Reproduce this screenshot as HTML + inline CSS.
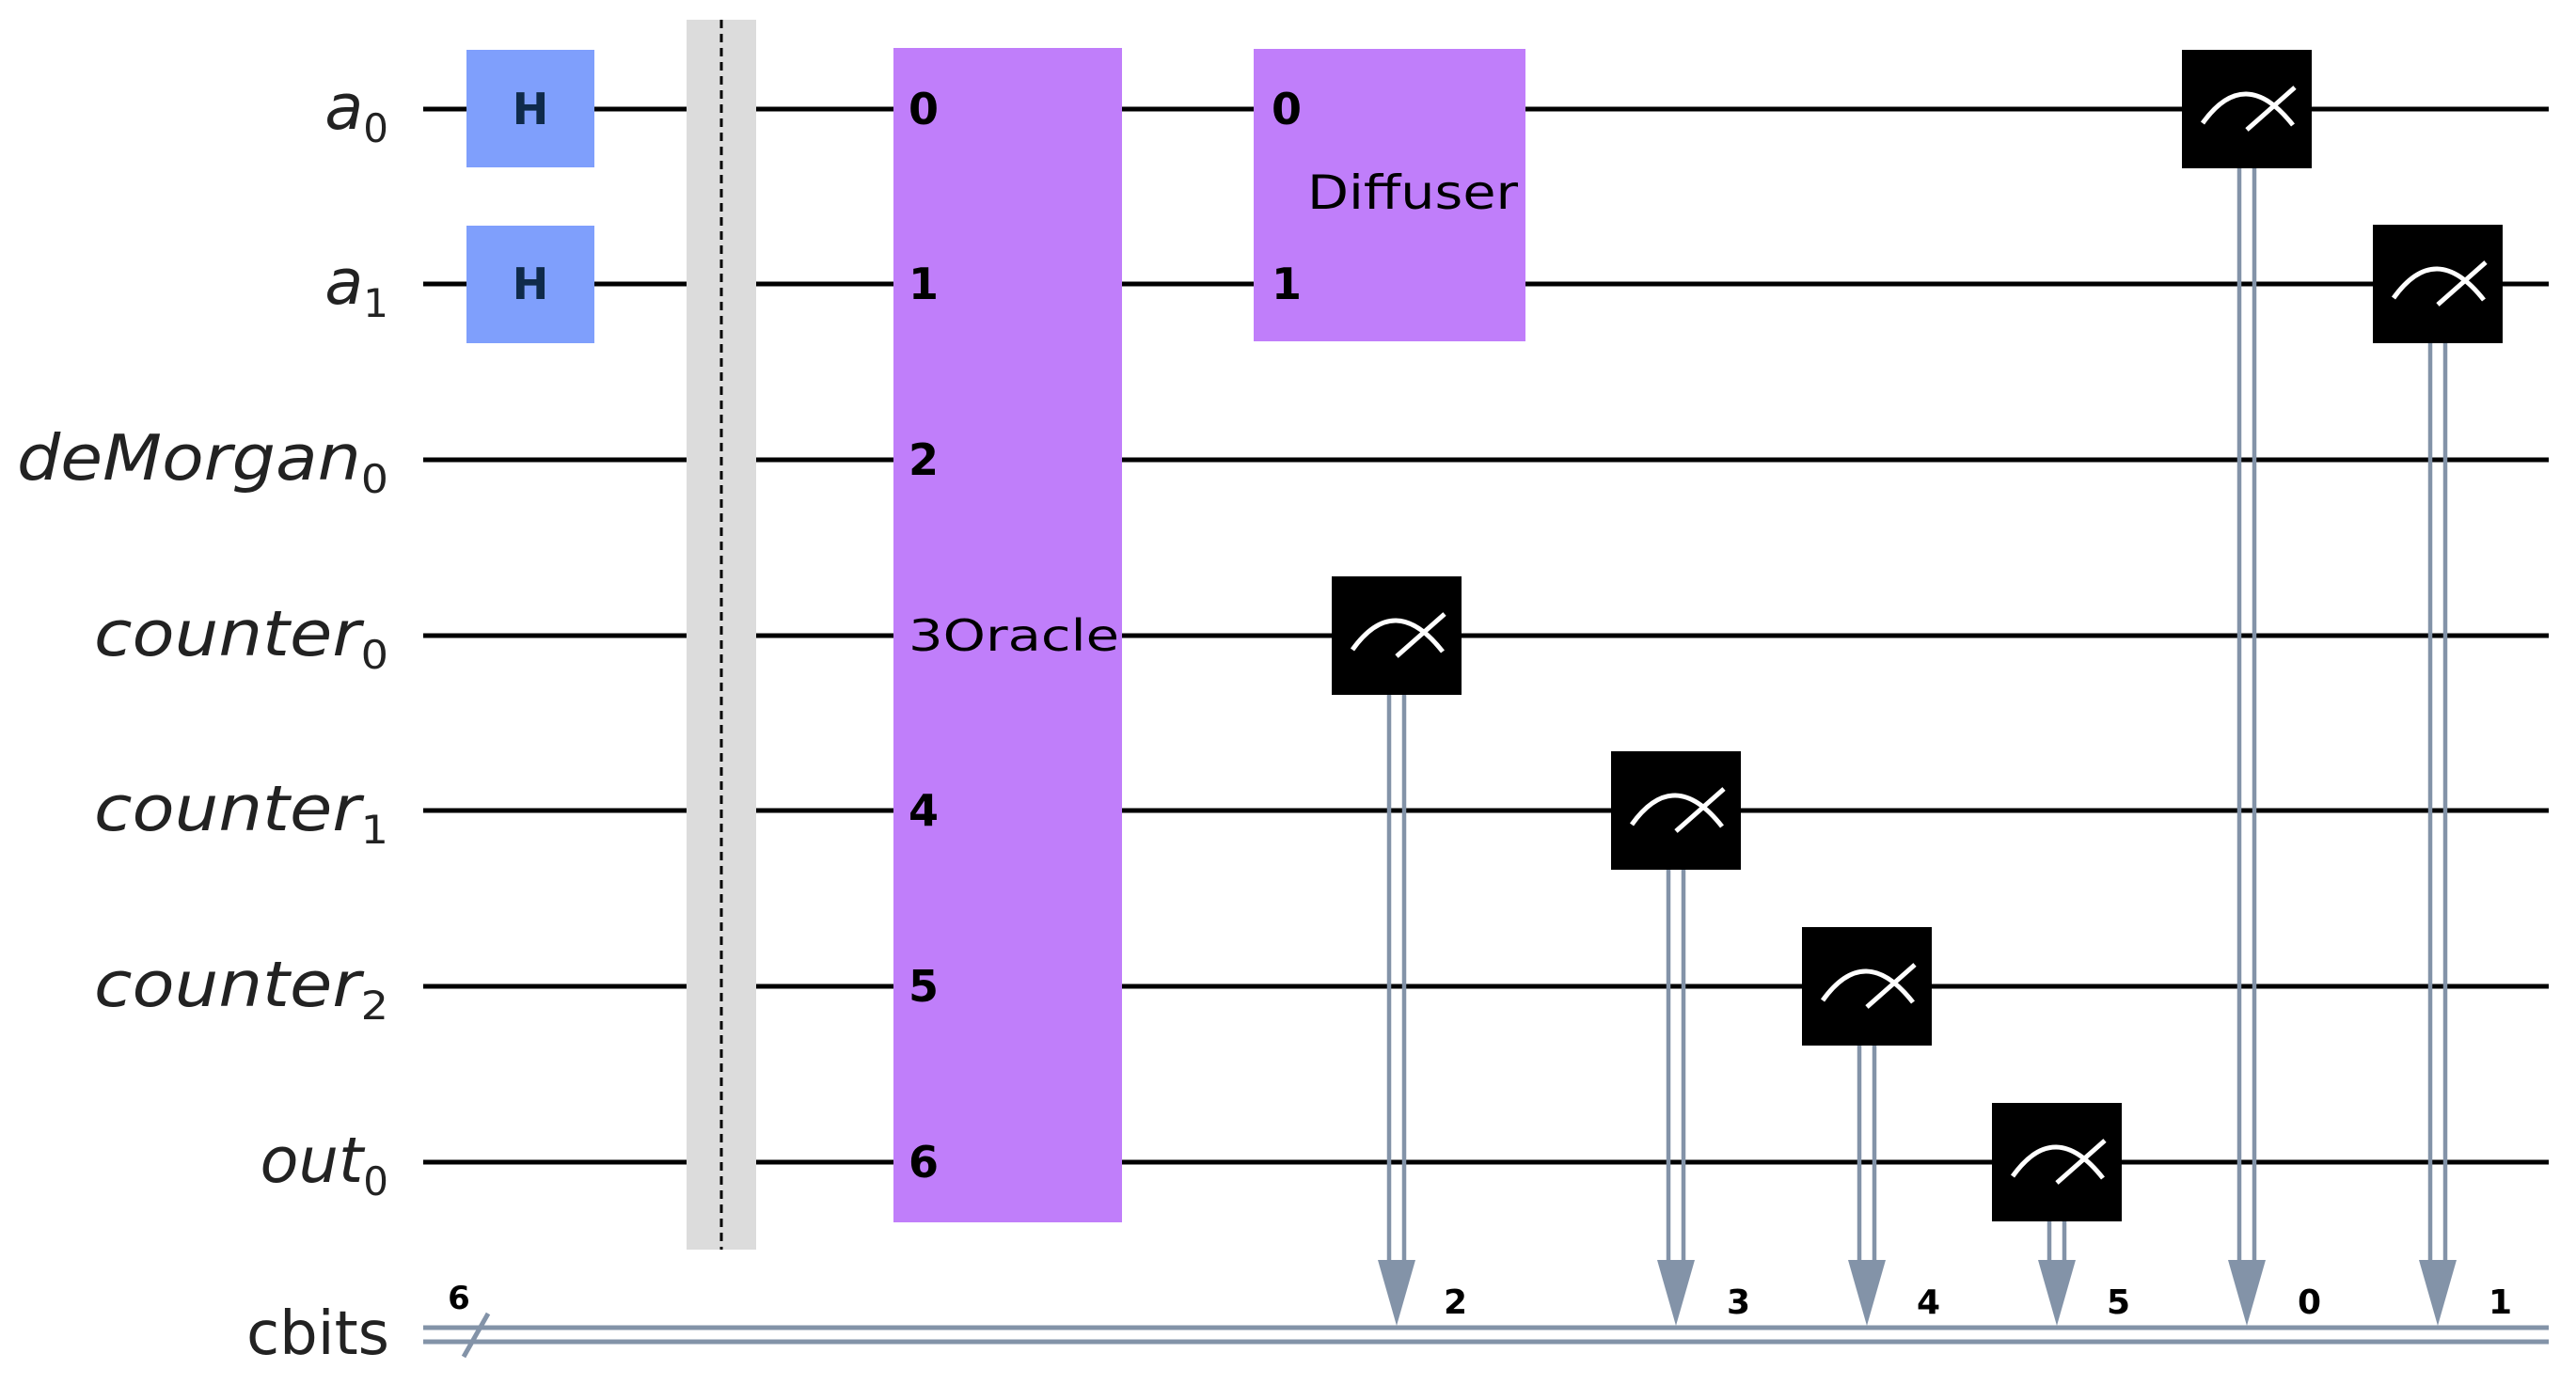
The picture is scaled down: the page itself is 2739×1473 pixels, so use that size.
<!DOCTYPE html>
<html><head><meta charset="utf-8"><style>html,body{margin:0;padding:0;background:#fff}svg{display:block}</style></head>
<body>
<svg width="2739" height="1473" viewBox="0 0 2739 1473" xmlns="http://www.w3.org/2000/svg" font-family="DejaVu Sans, Liberation Sans, sans-serif">
<rect width="2739" height="1473" fill="#fff"/>
<g stroke="#000" stroke-width="5">
<line x1="450" y1="116" x2="2710" y2="116"/>
<line x1="450" y1="302" x2="2710" y2="302"/>
<line x1="450" y1="489" x2="2710" y2="489"/>
<line x1="450" y1="676" x2="2710" y2="676"/>
<line x1="450" y1="862" x2="2710" y2="862"/>
<line x1="450" y1="1049" x2="2710" y2="1049"/>
<line x1="450" y1="1236" x2="2710" y2="1236"/>
</g>
<g stroke="#8393a8" stroke-width="5">
<line x1="450" y1="1412" x2="2710" y2="1412"/>
<line x1="450" y1="1427" x2="2710" y2="1427"/>
<line x1="493" y1="1443" x2="519" y2="1397"/>
</g>
<text x="488" y="1392" font-size="34" font-weight="bold" text-anchor="middle">6</text>
<g font-size="67" text-anchor="end" fill="#222">
<text x="413" y="137"><tspan font-style="italic">a</tspan><tspan font-size="42" dy="14">0</tspan></text>
<text x="413" y="323"><tspan font-style="italic">a</tspan><tspan font-size="42" dy="14">1</tspan></text>
<text x="413" y="510" textLength="395" lengthAdjust="spacingAndGlyphs"><tspan font-style="italic">deMorgan</tspan><tspan font-size="42" dy="14">0</tspan></text>
<text x="413" y="697" textLength="313" lengthAdjust="spacingAndGlyphs"><tspan font-style="italic">counter</tspan><tspan font-size="42" dy="14">0</tspan></text>
<text x="413" y="883" textLength="313" lengthAdjust="spacingAndGlyphs"><tspan font-style="italic">counter</tspan><tspan font-size="42" dy="14">1</tspan></text>
<text x="413" y="1070" textLength="313" lengthAdjust="spacingAndGlyphs"><tspan font-style="italic">counter</tspan><tspan font-size="42" dy="14">2</tspan></text>
<text x="413" y="1257"><tspan font-style="italic">out</tspan><tspan font-size="42" dy="14">0</tspan></text>
</g>
<text x="414" y="1440" font-size="64" text-anchor="end" fill="#222">cbits</text>
<rect x="496" y="53" width="136" height="125" fill="#7f9ffc"/>
<rect x="496" y="240" width="136" height="125" fill="#7f9ffc"/>
<g font-size="46" font-weight="bold" text-anchor="middle" fill="#0f2a4a"><text x="564" y="132">H</text><text x="564" y="318">H</text></g>
<rect x="730" y="21" width="74" height="1308" fill="#dcdcdc"/>
<line x1="767" y1="21" x2="767" y2="1329" stroke="#000" stroke-width="3" stroke-dasharray="9,6"/>
<rect x="950" y="51" width="243" height="1249" fill="#c07efa"/>
<g font-size="46" fill="#000">
<text x="966" y="132" font-weight="bold">0</text><text x="966" y="318" font-weight="bold">1</text><text x="966" y="505" font-weight="bold">2</text>
<text x="966" y="692" textLength="224" lengthAdjust="spacingAndGlyphs">3Oracle</text><text x="966" y="878" font-weight="bold">4</text><text x="966" y="1065" font-weight="bold">5</text><text x="966" y="1252" font-weight="bold">6</text>
</g>
<rect x="1333" y="52" width="289" height="311" fill="#c07efa"/>
<g font-size="46" fill="#000">
<text x="1352" y="132" font-weight="bold">0</text><text x="1352" y="318" font-weight="bold">1</text>
<text x="1390" y="222" font-size="50" textLength="224" lengthAdjust="spacingAndGlyphs">Diffuser</text>
</g>
<g stroke="#8393a8" stroke-width="4.5" fill="none">
<line x1="1477" y1="735" x2="1477" y2="1345"/><line x1="1493" y1="735" x2="1493" y2="1345"/>
<line x1="1774" y1="920" x2="1774" y2="1345"/><line x1="1790" y1="920" x2="1790" y2="1345"/>
<line x1="1977" y1="1107" x2="1977" y2="1345"/><line x1="1993" y1="1107" x2="1993" y2="1345"/>
<line x1="2179" y1="1293" x2="2179" y2="1345"/><line x1="2195" y1="1293" x2="2195" y2="1345"/>
<line x1="2381" y1="175" x2="2381" y2="1345"/><line x1="2397" y1="175" x2="2397" y2="1345"/>
<line x1="2584" y1="362" x2="2584" y2="1345"/><line x1="2600" y1="362" x2="2600" y2="1345"/>
</g>
<g fill="#8393a8">
<polygon points="1465,1340 1505,1340 1485,1410"/>
<polygon points="1762,1340 1802,1340 1782,1410"/>
<polygon points="1965,1340 2005,1340 1985,1410"/>
<polygon points="2167,1340 2207,1340 2187,1410"/>
<polygon points="2369,1340 2409,1340 2389,1410"/>
<polygon points="2572,1340 2612,1340 2592,1410"/>
</g>
<g font-size="36" font-weight="bold" fill="#000">
<text x="1535" y="1397">2</text><text x="1836" y="1397">3</text><text x="2038" y="1397">4</text>
<text x="2240" y="1397">5</text><text x="2443" y="1397">0</text><text x="2646" y="1397">1</text>
</g>
<defs>
<g id="m">
<rect x="-69" y="-63" width="138" height="126" fill="#000"/>
<path d="M-47,15 Q-2,-48 49,17" stroke="#fff" stroke-width="5" fill="none"/>
<line x1="0" y1="22" x2="51" y2="-23" stroke="#fff" stroke-width="5"/>
</g>
</defs>
<use href="#m" x="1485" y="676"/>
<use href="#m" x="1782" y="862"/>
<use href="#m" x="1985" y="1049"/>
<use href="#m" x="2187" y="1236"/>
<use href="#m" x="2389" y="116"/>
<use href="#m" x="2592" y="302"/>
</svg>
</body></html>
